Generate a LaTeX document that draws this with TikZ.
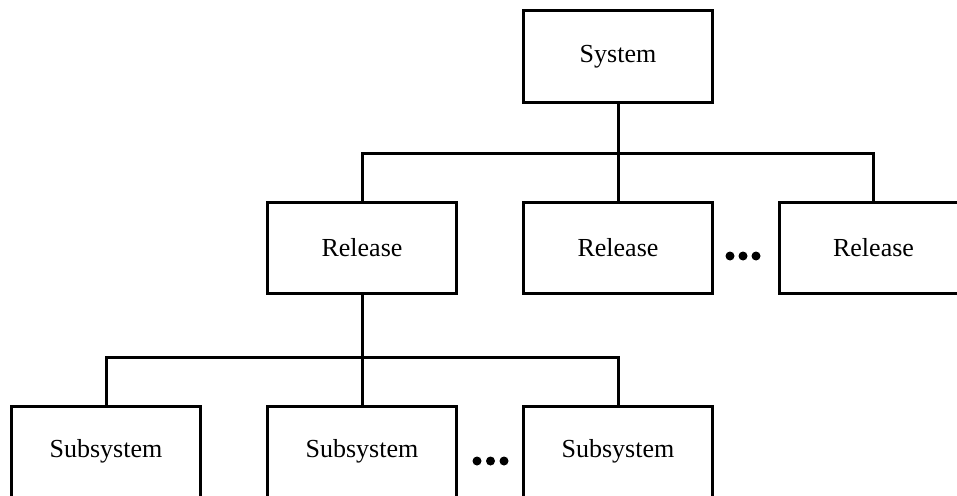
\documentclass[tikz,border=0pt]{standalone}
\usepackage{fontspec}
\setmainfont{Liberation Serif}
\begin{document}
\begin{tikzpicture}[x=1pt,y=-1pt,
  box/.style={draw, line width=3pt, minimum width=189pt, minimum height=91pt, inner sep=0pt,
    font=\fontsize{26}{30}\selectfont},
  conn/.style={line width=3pt},
  dotmark/.style={fill=black}]
\useasboundingbox (0,0) rectangle (957,495);
\clip (0,0) rectangle (957,495);
\node[box] (sys) at (618,56.5) {System};
\node[box] (r1) at (362,248) {Release};
\node[box] (r2) at (618,248) {Release};
\node[box] (r3) at (873.5,248) {Release};
\node[box] (s1) at (106,451.5) {Subsystem};
\node[box] (s2) at (362,451.5) {Subsystem};
\node[box] (s3) at (618,451.5) {Subsystem};
\coordinate (b1) at (618,153);
\coordinate (b2) at (362,357);
\draw[conn] (sys.south) -- (r2.north);
\draw[conn] (r1.north) |- (b1) -| (r3.north);
\draw[conn] (r1.south) -- (s2.north);
\draw[conn] (s1.north) |- (b2) -| (s3.north);
\foreach \x in {730,743,756} \fill[dotmark] (\x,256) circle[radius=4.5pt];
\foreach \x in {477,490.5,504} \fill[dotmark] (\x,461) circle[radius=4.5pt];
\end{tikzpicture}
\end{document}
